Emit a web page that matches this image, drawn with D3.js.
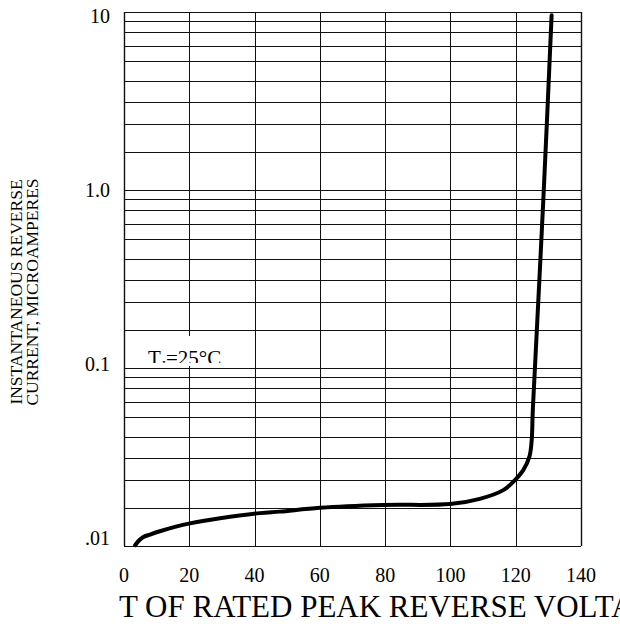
<!DOCTYPE html>
<html>
<head>
<meta charset="utf-8">
<script src="https://cdn.jsdelivr.net/npm/d3@7"></script>
<style>
  html, body { margin: 0; padding: 0; background: #fff; }
  svg { display: block; }
  text { font-family: "Liberation Serif", "Times New Roman", serif; fill: #000; }
</style>
</head>
<body>
<svg id="chart" width="620" height="628"></svg>
<script>
// ---- data ----
const voltagePct = [3.4, 4.3, 5.8, 8.0, 11.0, 15.6, 20.2, 29.4, 41.7, 47.8, 60.0, 79.4, 99.9, 109.0, 116.2, 119.3, 122.3, 124.2, 124.9, 125.2, 125.7, 128.6, 131.0];
const currentUA  = [0.0101, 0.0106, 0.0112, 0.0116, 0.0121, 0.0128, 0.0134, 0.0143, 0.0153, 0.0156, 0.0164, 0.0170, 0.0172, 0.0184, 0.0206, 0.0230, 0.0267, 0.0318, 0.0394, 0.0559, 0.0856, 1.0, 9.6];

const xTicks = [0, 20, 40, 60, 80, 100, 120, 140];
const yTicks = [0.01, 0.1, 1, 10];
const yTickLabels = [".01", "0.1", "1.0", "10"];
const decadeBases = [0.01, 0.1, 1];
const gridMultipliers = [1.64, 2.35, 3.13, 4.12, 5.30, 6.43, 7.71, 8.89];

const xTitle = "PERCENT OF RATED PEAK REVERSE VOLTAGE";
const yTitleLines = ["INSTANTANEOUS REVERSE", "CURRENT, MICROAMPERES"];

// ---- drawing ----
const svg = d3.select("#chart");
svg.append("rect").attr("width", 620).attr("height", 628).attr("fill", "#fff");

const x = d3.scaleLinear().domain([0, 140]).range([124, 581]);
const y = d3.scaleLog().domain([0.01, 10]).range([546, 12]);
// tick labels in the reference sit on a slightly compressed copy of the axis
const yLab = d3.scaleLog().domain([0.01, 10]).range([545, 23]);

const grid = svg.append("g");
const hVals = yTicks.concat(decadeBases.flatMap(b => gridMultipliers.map(m => b * m)));
grid.selectAll("line.h").data(hVals).join("line")
  .attr("class", "h")
  .attr("x1", x(0)).attr("x2", x(140))
  .attr("y1", d => Math.round(y(d)) + 0.5).attr("y2", d => Math.round(y(d)) + 0.5)
  .attr("stroke", "#111").attr("stroke-width", 1);
grid.selectAll("line.v").data(xTicks).join("line")
  .attr("class", "v")
  .attr("y1", y(10)).attr("y2", y(0.01))
  .attr("x1", d => Math.round(x(d)) + 0.5).attr("x2", d => Math.round(x(d)) + 0.5)
  .attr("stroke", "#111").attr("stroke-width", d => (d === 0 || d === 140) ? 1.4 : 1);

// T_J label with white box, clipped
const defs = svg.append("defs");
defs.append("clipPath").attr("id", "tjclip")
  .append("rect").attr("x", 135).attr("y", 336).attr("width", 105).attr("height", 27);
defs.append("clipPath").attr("id", "titleclip")
  .append("rect").attr("x", 118.6).attr("y", 580).attr("width", 520).attr("height", 48);
svg.append("rect").attr("x", 135).attr("y", 336).attr("width", 105).attr("height", 30).attr("fill", "#fff");
const tj = svg.append("text").attr("clip-path", "url(#tjclip)")
  .attr("x", 148).attr("y", 365).attr("font-size", 21);
tj.append("tspan").text("T");
tj.append("tspan").attr("font-size", 13).attr("dy", 4).text("J");
tj.append("tspan").attr("dy", -4).text("=25°C");

// curve
const pts = voltagePct.map((v, i) => [x(v), y(currentUA[i])]);
svg.append("path")
  .attr("d", d3.line().curve(d3.curveCatmullRom.alpha(0.5))(pts))
  .attr("fill", "none").attr("stroke", "#000").attr("stroke-width", 4)
  .attr("stroke-linecap", "round").attr("stroke-linejoin", "round");

// x tick labels
svg.selectAll("text.xt").data(xTicks).join("text")
  .attr("class", "xt")
  .attr("x", d => x(d)).attr("y", 582)
  .attr("text-anchor", "middle").attr("font-size", 20)
  .text(d => d);

// y tick labels
svg.selectAll("text.yt").data(yTicks).join("text")
  .attr("class", "yt")
  .attr("x", 110).attr("y", d => yLab(d))
  .attr("text-anchor", "end").attr("font-size", 20)
  .text((d, i) => yTickLabels[i]);

// x title (wider than the page; the reference shows it cropped on the left at the axis start)
const xt = svg.append("text").attr("y", 617).attr("font-size", 31)
  .attr("clip-path", "url(#titleclip)").text(xTitle);
const pre = xt.node().getSubStringLength(0, xTitle.indexOf("T OF"));
xt.attr("x", 119 - pre);

// y title
yTitleLines.forEach((t, i) => {
  svg.append("text")
    .attr("transform", `translate(${22 + i * 16},292) rotate(-90)`)
    .attr("text-anchor", "middle").attr("font-size", 17.5)
    .text(t);
});
</script>
</body>
</html>
